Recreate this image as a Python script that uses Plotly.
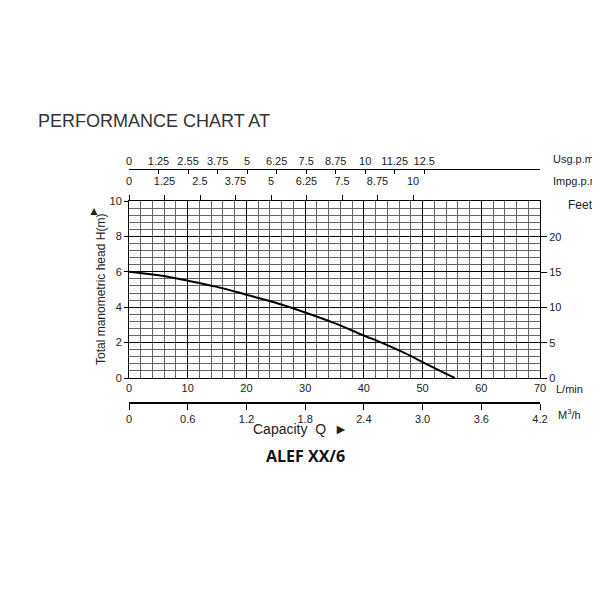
import plotly.graph_objects as go

# pump curve, Q in L/min vs H in m
q_lmin = [0, 5, 10, 15, 20, 25, 30, 35, 40, 43, 47, 50, 53, 55.5]
head_m = [6.0, 5.8, 5.5, 5.15, 4.7, 4.25, 3.7, 3.1, 2.4, 2.0, 1.4, 0.9, 0.4, 0.0]

usg_ticks = [0, 1.25, 2.55, 3.75, 5, 6.25, 7.5, 8.75, 10, 11.25, 12.5]
usg_pos = [0, 1.25, 2.5, 3.75, 5, 6.25, 7.5, 8.75, 10, 11.25, 12.5]
imp_ticks = [0, 1.25, 2.5, 3.75, 5, 6.25, 7.5, 8.75, 10]
m3h_ticks = [0, 0.6, 1.2, 1.8, 2.4, 3.0, 3.6, 4.2]
feet_ticks = [0, 5, 10, 15, 20]

W = 600.0
def px_x(p): return p / W
def px_y(p): return 1 - p / W

font = dict(family="Liberation Sans, Arial", size=11, color="#222")

fig = go.Figure()
fig.add_trace(go.Scatter(x=q_lmin, y=head_m, mode="lines", line=dict(color="black", width=2),
                         line_shape="spline", showlegend=False))
# invisible traces so the secondary axes get drawn
for xa, ya in [("x2", "y2"), ("x3", "y"), ("x4", "y")]:
    fig.add_trace(go.Scatter(x=[0], y=[0], xaxis=xa, yaxis=ya, mode="markers",
                             marker=dict(opacity=0), showlegend=False, hoverinfo="skip"))

xd = [px_x(121), px_x(532)]
fig.update_layout(
    width=600, height=600, margin=dict(l=0, r=0, t=0, b=0, autoexpand=False),
    plot_bgcolor="white", paper_bgcolor="white", font=font,
    xaxis=dict(domain=xd, range=[0, 70], tickvals=list(range(0, 71, 10)), automargin=False,
               showgrid=True, gridcolor="black", gridwidth=1.2,
               minor=dict(dtick=2, showgrid=True, gridcolor="#666", gridwidth=1),
               showline=True, linecolor="black", mirror=True, ticks="", zeroline=False),
    yaxis=dict(domain=[px_y(370), px_y(193)], range=[0, 10], tickvals=list(range(0, 11, 2)),
               automargin=False, showgrid=True, gridcolor="black", gridwidth=1.2,
               minor=dict(dtick=0.4, showgrid=True, gridcolor="#666", gridwidth=1),
               showline=True, linecolor="black", mirror=True, ticks="outside", ticklen=4,
               tickcolor="black", zeroline=False),
    yaxis2=dict(overlaying="y", side="right", range=[0, 25.1], tickvals=feet_ticks,
                automargin=False, showgrid=False, ticks="outside", ticklen=6,
                tickcolor="black", zeroline=False),
    xaxis2=dict(anchor="free", position=px_y(395), overlaying="x", domain=xd, range=[0, 4.2],
                tickvals=m3h_ticks, ticktext=[f"{v:.1f}" if v else "0" for v in m3h_ticks],
                automargin=False, showline=True, linecolor="black", linewidth=1.5,
                ticks="outside", ticklen=6, tickcolor="black", showgrid=False, zeroline=False),
    xaxis3=dict(anchor="free", position=px_y(161), overlaying="x", side="top", domain=xd,
                range=[0, 17.4], tickvals=usg_pos, ticktext=[str(v) for v in usg_ticks],
                automargin=False, showline=True, linecolor="black", ticks="inside", ticklen=4,
                tickcolor="black", showgrid=False, zeroline=False),
    xaxis4=dict(anchor="y", overlaying="x", side="top", range=[0, 14.47],
                tickvals=imp_ticks, ticktext=[str(v) for v in imp_ticks], automargin=False,
                ticks="outside", ticklen=5, tickcolor="black", ticklabelstandoff=6,
                showgrid=False, zeroline=False),
)

ann = [
    dict(x=px_x(28), y=px_y(113), text="PERFORMANCE CHART AT", xanchor="left",
         font=dict(size=18, color="#333")),
    dict(x=px_x(543), y=px_y(151), text="Usg.p.m", xanchor="left"),
    dict(x=px_x(543), y=px_y(173), text="Impg.p.m", xanchor="left"),
    dict(x=px_x(558), y=px_y(197), text="Feet", xanchor="left", font=dict(size=12)),
    dict(x=px_x(546), y=px_y(381), text="L/min", xanchor="left"),
    dict(x=px_x(548), y=px_y(406), text="M<sup>3</sup>/h", xanchor="left"),
    dict(x=px_x(243), y=px_y(421), text="Capacity  Q  ►", xanchor="left", font=dict(size=14)),
    dict(x=px_x(297), y=px_y(448), text="<b>ALEF XX/6</b>", xanchor="center",
         font=dict(family="Open Sans", size=16, color="#111")),
    dict(x=px_x(84), y=px_y(282), text="Total manometric head H(m)", textangle=-90,
         font=dict(size=12)),
    dict(x=px_x(78), y=px_y(203), text="▲", font=dict(size=12)),
]
for a in ann:
    a.setdefault("xref", "paper")
    a.setdefault("yref", "paper")
    a.setdefault("showarrow", False)
    a.setdefault("yanchor", "middle")
    fig.add_annotation(**a)

fig.write_html("out.html")
